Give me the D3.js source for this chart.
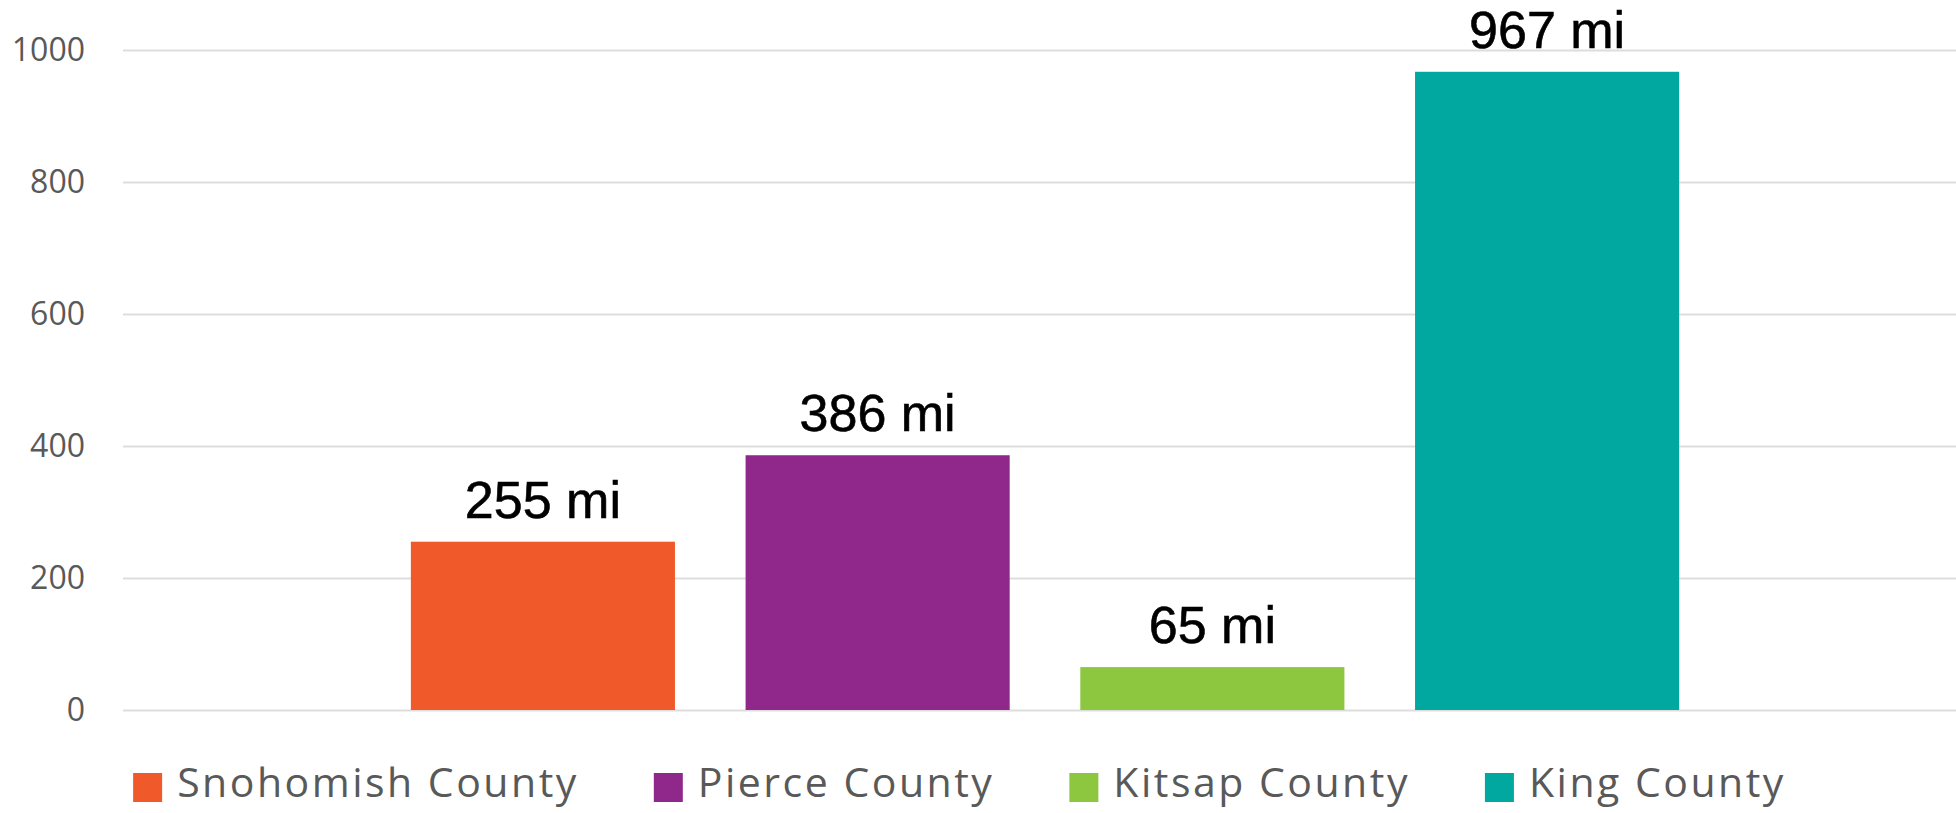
<!DOCTYPE html>
<html>
<head>
<meta charset="utf-8">
<script src="https://cdn.jsdelivr.net/npm/d3@7"></script>
<style>
  html, body { margin: 0; padding: 0; background: #ffffff; }
  svg { display: block; }
</style>
</head>
<body>
<svg id="chart" width="1956" height="813"></svg>
<script>
// ---- data ----
const counties = ["Snohomish County", "Pierce County", "Kitsap County", "King County"];
const miles = [255, 386, 65, 967];
const colors = ["#F05A2B", "#90278B", "#8DC63F", "#00A8A0"];
const yTicks = [0, 200, 400, 600, 800, 1000];
const unit = " mi";

// ---- layout ----
const W = 1956, H = 813;
const plot = { left: 123, right: 1967, top: 50, bottom: 710 };

const svg = d3.select("#chart");

const y = d3.scaleLinear().domain([0, 1000]).range([plot.bottom, plot.top]);
const x = d3.scaleBand().domain(counties).range([plot.left, plot.right])
  .paddingInner(0.211).paddingOuter(0.86);

// gridlines + tick labels via axis
const yAxis = d3.axisLeft(y).tickValues(yTicks).tickSize(-(plot.right - plot.left)).tickPadding(38).tickFormat(d3.format("d"));
const gAxis = svg.append("g").attr("transform", `translate(${plot.left},0)`).call(yAxis);
gAxis.select(".domain").remove();
gAxis.selectAll(".tick line").attr("stroke", "#dddddd").attr("stroke-width", 2);
gAxis.selectAll(".tick text")
  .attr("fill", "#595959")
  .style("font-family", "'Open Sans', 'Noto Sans', sans-serif")
  .style("font-size", "32px");

// bars
const data = counties.map((c, i) => ({ c, v: miles[i], col: colors[i] }));
svg.append("g").selectAll("rect").data(data).join("rect")
  .attr("x", d => x(d.c))
  .attr("width", x.bandwidth())
  .attr("y", d => y(d.v))
  .attr("height", d => y(0) - y(d.v))
  .attr("fill", d => d.col);

// value labels
svg.append("g").selectAll("text").data(data).join("text")
  .attr("x", d => x(d.c) + x.bandwidth() / 2)
  .attr("y", d => y(d.v) - 24)
  .attr("text-anchor", "middle")
  .attr("fill", "#000000")
  .style("font-family", "'Liberation Sans', Arial, sans-serif")
  .style("font-size", "52px")
  .style("stroke", "#000")
  .style("stroke-width", "0.6px")
  .text(d => d.v + unit);

// legend
const legend = svg.append("g");
const sq = 29, gapText = 15, gapItem = 75;
let cx = 0;
data.forEach(d => {
  const g = legend.append("g");
  g.append("rect").attr("x", 0).attr("y", 773).attr("width", sq).attr("height", sq).attr("fill", d.col);
  const t = g.append("text")
    .attr("x", sq + gapText).attr("y", 797)
    .attr("fill", "#595959")
    .style("font-family", "'Open Sans', 'Noto Sans', sans-serif")
    .style("font-size", "41px")
    .style("letter-spacing", "2.5px")
    .text(d.c);
  const w = t.node().getComputedTextLength();
  g.attr("transform", `translate(${cx},0)`);
  cx += sq + gapText + w + gapItem;
});
const total = cx - gapItem;
legend.attr("transform", `translate(${959.5 - total / 2},0)`);
</script>
</body>
</html>
